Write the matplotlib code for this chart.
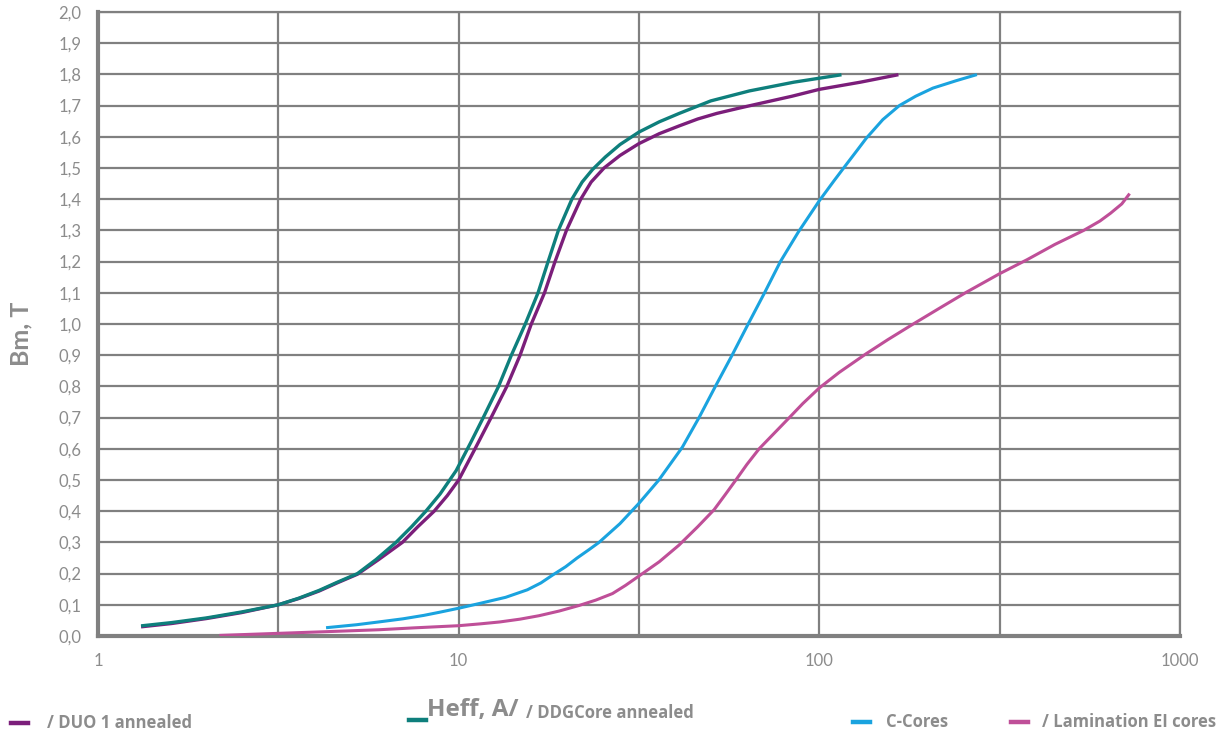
import matplotlib
matplotlib.use("Agg")
import matplotlib.pyplot as plt
from matplotlib.lines import Line2D

plt.rcParams['font.family'] = ['Lato', 'DejaVu Sans']

# Heff (A/m) and Bm (T)
duo_h = [1.33, 1.6, 2.0, 2.5, 3.16, 3.6, 4.1, 4.6, 5.24, 6.0, 6.98, 7.7, 8.55, 9.3, 10.0,
         11.1, 12.3, 13.6, 14.8, 15.9, 17.3, 18.5, 19.9, 21.8, 23.3, 25.3, 28.0, 31.6, 36.0,
         40.9, 46.0, 52.0, 60.0, 69.7, 84.0, 100.0, 130.0, 164.0]
duo_b = [0.030, 0.040, 0.056, 0.075, 0.100, 0.120, 0.144, 0.170, 0.198, 0.245, 0.300, 0.350,
         0.400, 0.450, 0.500, 0.600, 0.700, 0.800, 0.900, 1.000, 1.100, 1.200, 1.300, 1.400,
         1.455, 1.500, 1.540, 1.578, 1.610, 1.635, 1.657, 1.675, 1.692, 1.709, 1.730, 1.752,
         1.775, 1.798]

ddg_h = [1.33, 1.6, 2.0, 2.5, 3.16, 3.6, 4.1, 4.6, 5.24, 5.9, 6.7, 7.4, 8.11, 8.88, 9.84,
         10.8, 11.7, 12.9, 14.0, 15.3, 16.6, 17.7, 18.9, 20.6, 22.0, 23.5, 25.5, 28.0, 31.6,
         36.0, 40.9, 50.0, 64.0, 85.0, 114.0]
ddg_b = [0.033, 0.043, 0.058, 0.077, 0.100, 0.121, 0.146, 0.172, 0.200, 0.245, 0.300, 0.350,
         0.400, 0.455, 0.530, 0.620, 0.700, 0.800, 0.900, 1.000, 1.100, 1.200, 1.300, 1.400,
         1.455, 1.495, 1.535, 1.575, 1.615, 1.648, 1.675, 1.715, 1.747, 1.775, 1.798]

ccore_h = [4.33, 5.2, 6.0, 7.0, 8.0, 8.84, 10.0, 11.5, 13.5, 15.5, 16.9, 18.2, 19.8, 21.3,
           23.0, 24.5, 28.0, 31.6, 35.9, 41.7, 46.4, 51.5, 57.3, 63.5, 70.5, 78.0, 87.5,
           100.0, 110.0, 118.6, 127.0, 134.9, 150.0, 166.7, 185.0, 206.5, 240.0, 271.0]
ccore_b = [0.027, 0.036, 0.045, 0.055, 0.066, 0.076, 0.089, 0.105, 0.124, 0.148, 0.170,
           0.195, 0.222, 0.250, 0.277, 0.300, 0.360, 0.425, 0.500, 0.605, 0.700, 0.800, 0.900,
           1.000, 1.100, 1.200, 1.295, 1.395, 1.460, 1.510, 1.555, 1.595, 1.655, 1.700, 1.730,
           1.756, 1.780, 1.798]

lam_h = [2.19, 3.16, 4.33, 6.0, 7.5, 8.84, 10.0, 11.5, 13.0, 14.8, 16.7, 19.0, 21.6, 24.0,
         26.7, 29.0, 31.6, 36.0, 40.8, 46.0, 51.1, 55.0, 58.7, 63.0, 68.1, 75.0, 82.6, 90.0,
         100.0, 113.6, 135.0, 155.0, 181.6, 215.0, 255.0, 316.0, 376.7, 450.0, 541.0, 600.0,
         642.0, 690.0, 721.0]
lam_b = [0.002, 0.0085, 0.014, 0.020, 0.026, 0.030, 0.033, 0.039, 0.045, 0.054, 0.065, 0.080,
         0.098, 0.115, 0.136, 0.162, 0.192, 0.238, 0.291, 0.350, 0.405, 0.455, 0.500, 0.550,
         0.600, 0.650, 0.700, 0.745, 0.795, 0.845, 0.905, 0.950, 0.999, 1.050, 1.101, 1.161,
         1.206, 1.255, 1.300, 1.330, 1.355, 1.385, 1.414]

y_ticks = [0.0, 0.1, 0.2, 0.3, 0.4, 0.5, 0.6, 0.7, 0.8, 0.9, 1.0,
           1.1, 1.2, 1.3, 1.4, 1.5, 1.6, 1.7, 1.8, 1.9, 2.0]
y_labels = ["0,0", "0,1", "0,2", "0,3", "0,4", "0,5", "0,6", "0,7", "0,8", "0,9", "1,0",
            "1,1", "1,2", "1,3", "1,4", "1,5", "1,6", "1,7", "1,8", "1,9", "2,0"]
x_ticks = [1, 10, 100, 1000]
x_labels = ["1", "10", "100", "1000"]
x_half = [3.1623, 31.623, 316.23]

gray = "#808080"
text_gray = "#8c8c8c"
c_duo = "#7b1e7a"
c_ddg = "#0e7f7c"
c_cc = "#1aa3df"
c_lam = "#bf4f98"

fig = plt.figure(figsize=(12.24, 7.35), dpi=100)
ax = fig.add_axes([0.0801, 0.1347, 0.964 - 0.0801, 0.9837 - 0.1347])

ax.plot(lam_h, lam_b, color=c_lam, lw=2.2, zorder=3, solid_joinstyle="round")
ax.plot(ccore_h, ccore_b, color=c_cc, lw=2.2, zorder=3, solid_joinstyle="round")
ax.plot(duo_h, duo_b, color=c_duo, lw=2.4, zorder=3, solid_joinstyle="round")
ax.plot(ddg_h, ddg_b, color=c_ddg, lw=2.4, zorder=4, solid_joinstyle="round")

ax.set_xscale("log")
ax.set_xlim(1, 1000)
ax.set_ylim(0, 2.0)
ax.set_xticks(x_ticks)
ax.set_xticklabels(x_labels)
ax.set_xticks(x_half, minor=True)
ax.set_xticklabels([], minor=True)
ax.set_yticks(y_ticks)
ax.set_yticklabels(y_labels)
ax.grid(True, which="both", color=gray, lw=1.6, zorder=0)
ax.set_axisbelow(True)
ax.tick_params(which="both", length=0, labelsize=12, labelcolor=text_gray)
ax.tick_params(axis="y", pad=12)
ax.tick_params(axis="x", pad=12)

for side in ["left", "bottom"]:
    ax.spines[side].set_color(gray)
    ax.spines[side].set_linewidth(3)
for side in ["top", "right"]:
    ax.spines[side].set_color(gray)
    ax.spines[side].set_linewidth(1.6)

fig.text(21 / 1224, 1 - 334 / 735, "Bm, T", fontsize=18, fontweight="bold",
         color=text_gray, rotation=90, ha="center", va="center")

# bottom legend, laid out as in the reference
W, H = 1224.0, 735.0
leg_font = ["Open Sans", "DejaVu Sans"]
def handle(x0, y, color):
    fig.add_artist(Line2D([x0 / W, (x0 + 17) / W], [1 - y / H, 1 - y / H],
                          color=color, lw=3.2, transform=fig.transFigure))

handle(11, 723, c_duo)
fig.text(47 / W, 1 - 723 / H, "/ DUO 1 annealed", fontsize=12, fontweight="bold",
         color=text_gray, va="center", family=leg_font)
handle(409, 720, c_ddg)
fig.text(427 / W, 1 - 710 / H, "Heff, A/", fontsize=17.5, fontweight="bold",
         color=text_gray, va="center", family=leg_font)
fig.text(526 / W, 1 - 713 / H, "/ DDGCore annealed", fontsize=12, fontweight="bold",
         color=text_gray, va="center", family=leg_font)
handle(853, 722, c_cc)
fig.text(886 / W, 1 - 722 / H, "C-Cores", fontsize=12, fontweight="bold",
         color=text_gray, va="center", family=leg_font)
handle(1011, 722, c_lam)
fig.text(1042 / W, 1 - 722 / H, "/ Lamination EI cores", fontsize=12, fontweight="bold",
         color=text_gray, va="center", family=leg_font)

fig.savefig("out.png", dpi=100)
